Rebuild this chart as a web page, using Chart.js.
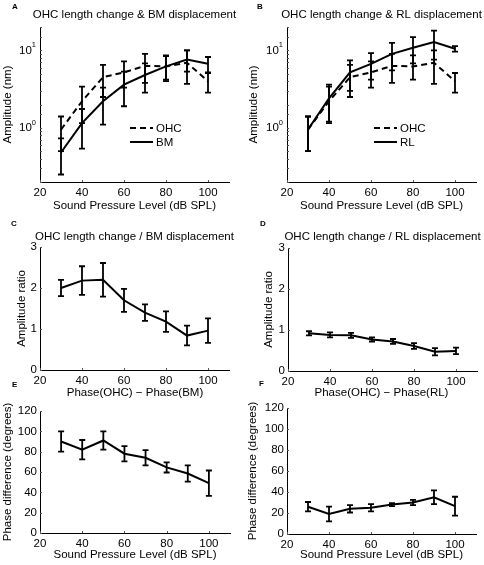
<!DOCTYPE html>
<html>
<head>
<meta charset="utf-8">
<script src="https://cdn.jsdelivr.net/npm/chart.js@4.4.0/dist/chart.umd.min.js"></script>
<style>
body { margin: 0; background: #fff; }
#wrap { position: relative; width: 484px; height: 565px; overflow: hidden; }
canvas { position: absolute; }
</style>
</head>
<body>
<div id="wrap">
  <canvas id="cA" width="242" height="213" style="left:0;top:0"></canvas>
  <canvas id="cB" width="242" height="213" style="left:242px;top:0"></canvas>
  <canvas id="cC" width="242" height="170" style="left:0;top:215px"></canvas>
  <canvas id="cD" width="242" height="170" style="left:242px;top:215px"></canvas>
  <canvas id="cE" width="242" height="184" style="left:0;top:378px"></canvas>
  <canvas id="cF" width="242" height="184" style="left:242px;top:378px"></canvas>
</div>
<script>
// Sound pressure levels (dB SPL)
const spl = [30, 40, 50, 60, 70, 80, 90, 100];

// Amplitudes (nm), with lower/upper error bar ends
const ohcAmp = [0.95, 2.2, 4.5, 5.2, 6.3, 6.2, 6.9, 4.0];
const ohcLo  = [0.5, 1.15, 2.5, 3.3, 3.8, 4.2, 3.7, 2.85];
const ohcHi  = [1.4, 3.4, 6.5, 7.2, 9.0, 8.6, 10.0, 5.1];
const bmAmp  = [0.48, 1.15, 2.2, 3.6, 4.8, 6.2, 7.6, 6.7];
const bmLo   = [0.25, 0.54, 1.1, 1.9, 2.85, 4.0, 5.3, 5.2];
const bmHi   = [0.73, 1.75, 3.3, 5.3, 6.8, 8.4, 10.0, 8.2];
const rlAmp  = [0.95, 2.4, 5.2, 6.7, 9.0, 10.8, 12.8, 10.5];
const rlLo   = [0.5, 1.2, 3.0, 4.2, 5.5, 6.8, 7.6, 9.6];
const rlHi   = [1.4, 3.6, 7.4, 9.2, 12.5, 14.8, 18.0, 11.3];

// Amplitude ratios, +/- error
const ratioBM = [2.0, 2.18, 2.2, 1.7, 1.4, 1.18, 0.84, 0.96];
const ratioBMErr = [0.2, 0.35, 0.41, 0.28, 0.2, 0.25, 0.24, 0.3];
const ratioRL = [0.92, 0.88, 0.87, 0.77, 0.72, 0.61, 0.47, 0.49];
const ratioRLErr = [0.05, 0.06, 0.06, 0.05, 0.06, 0.07, 0.09, 0.08];

// Phase differences (degrees), +/- error
const phaseBM = [90, 82, 91, 78, 74, 64.5, 58.5, 49];
const phaseBMErr = [10, 9.5, 9, 7.5, 7.5, 5, 8, 12.5];
const phaseRL = [26, 19, 24, 25, 28, 30, 35, 26.5];
const phaseRLErr = [4.5, 7, 3.5, 3.5, 1.5, 2.5, 6.5, 9];

const xTicks = [20, 40, 60, 80, 100];
const FONT = 'Liberation Sans, Arial, sans-serif';

const pts = (vals) => spl.map((x, i) => ({ x: x, y: vals[i] }));
const minus = (v, e) => v.map((a, i) => a - e[i]);
const plus = (v, e) => v.map((a, i) => a + e[i]);

// error bars, inward ticks, panel letter, title, legend, log tick labels
const decor = {
  id: 'decor',
  afterDatasetsDraw(chart, args, o) {
    const ctx = chart.ctx, a = chart.chartArea;
    const xs = chart.scales.x, ys = chart.scales.y;
    ctx.save();
    // small inward tick marks (matlab style)
    ctx.strokeStyle = '#555';
    ctx.lineWidth = 1;
    ctx.beginPath();
    xs.ticks.forEach(t => {
      const x = Math.round(xs.getPixelForValue(t.value)) + 0.5;
      ctx.moveTo(x, a.bottom); ctx.lineTo(x, a.bottom - 2);
    });
    ys.ticks.forEach(t => {
      const y = Math.round(ys.getPixelForValue(t.value)) + 0.5;
      ctx.moveTo(a.left, y); ctx.lineTo(a.left + 2, y);
    });
    ctx.stroke();

    ctx.strokeStyle = '#000';
    ctx.lineWidth = 1.8;
    chart.data.datasets.forEach(ds => {
      if (!ds.lo) return;
      ds.data.forEach((p, j) => {
        const x = xs.getPixelForValue(p.x);
        const y1 = ys.getPixelForValue(ds.lo[j]);
        const y2 = ys.getPixelForValue(ds.hi[j]);
        ctx.beginPath();
        ctx.moveTo(x, y1); ctx.lineTo(x, y2);
        ctx.moveTo(x - 3, y1); ctx.lineTo(x + 3, y1);
        ctx.moveTo(x - 3, y2); ctx.lineTo(x + 3, y2);
        ctx.stroke();
      });
    });
    ctx.restore();
  },
  afterDraw(chart, args, o) {
    const ctx = chart.ctx, a = chart.chartArea;
    ctx.save();
    ctx.fillStyle = '#000';
    ctx.font = 'bold 8px ' + FONT;
    ctx.textAlign = 'left';
    ctx.textBaseline = 'middle';
    ctx.fillText(o.letter, o.letterX, o.letterY);

    ctx.font = '11.5px ' + FONT;
    ctx.textAlign = 'center';
    ctx.fillText(o.title, (a.left + a.right) / 2, o.titleY);

    if (o.logTicks) {
      const ys = chart.scales.y;
      o.logTicks.forEach(e => {
        const y = ys.getPixelForValue(Math.pow(10, e));
        ctx.font = '7.5px ' + FONT;
        ctx.textAlign = 'right';
        ctx.textBaseline = 'middle';
        const ew = ctx.measureText(String(e)).width;
        ctx.fillText(String(e), a.left - 4, y - 5);
        ctx.font = '11.5px ' + FONT;
        ctx.fillText('10', a.left - 4 - ew, y);
      });
    }

    if (o.legend) {
      const lg = o.legend;
      chart.data.datasets.forEach((ds, i) => {
        const y = lg.y + i * 14;
        ctx.strokeStyle = '#000';
        ctx.lineWidth = 2;
        ctx.setLineDash(ds.borderDash || []);
        ctx.beginPath();
        ctx.moveTo(lg.x, y); ctx.lineTo(lg.x + 23, y);
        ctx.stroke();
        ctx.setLineDash([]);
        ctx.font = '11.5px ' + FONT;
        ctx.textAlign = 'left';
        ctx.textBaseline = 'middle';
        ctx.fillText(ds.label, lg.x + 26, y + 1);
      });
    }
    ctx.restore();
  }
};

function line(label, vals, lo, hi, dash) {
  return {
    label: label,
    data: pts(vals),
    lo: lo, hi: hi,
    borderColor: '#000',
    borderWidth: 2,
    borderDash: dash || [],
    pointRadius: 0,
    tension: 0,
    fill: false
  };
}

function makePanel(id, p) {
  const noGrid = { display: false, drawTicks: false, tickLength: 0 };
  const yScale = {
    type: p.log ? 'logarithmic' : 'linear',
    min: p.yMin, max: p.yMax,
    grid: noGrid,
    border: { display: true, color: '#000', width: 1 },
    ticks: {
      display: !p.log,
      stepSize: p.yStep,
      autoSkip: false,
      color: '#000',
      padding: 3,
      font: { family: FONT, size: 11.5 }
    },
    title: {
      display: true, text: p.yTitle, color: '#000',
      padding: { top: p.yTitlePad, bottom: 0 },
      font: { family: FONT, size: 11.5 }
    },
    afterFit: s => { s.width = p.L; }
  };
  const xScale = {
    type: 'linear', min: 20, max: 110,
    grid: noGrid,
    border: { display: true, color: '#000', width: 1 },
    afterBuildTicks: s => { s.ticks = xTicks.map(v => ({ value: v })); },
    ticks: {
      color: '#000', padding: 4, autoSkip: false, maxRotation: 0,
      font: { family: FONT, size: 11.5 }
    },
    title: {
      display: !!p.xTitle, text: 'Sound Pressure Level (dB SPL)', color: '#000',
      padding: { top: 0, bottom: 0 },
      font: { family: FONT, size: 11.5 }
    },
    afterFit: s => { s.height = p.H - p.B; }
  };
  return new Chart(document.getElementById(id), {
    type: 'line',
    data: { datasets: p.datasets },
    options: {
      responsive: false,
      animation: false,
      layout: { padding: { left: 0, top: p.T, right: 242 - p.R, bottom: 0 } },
      scales: { x: xScale, y: yScale },
      plugins: {
        legend: { display: false },
        tooltip: { enabled: false },
        decor: {
          letter: p.letter, letterX: p.lx, letterY: p.ly,
          title: p.title, titleY: p.titleY,
          logTicks: p.log ? [0, 1] : null,
          legend: p.legend
        }
      }
    },
    plugins: [decor]
  });
}

makePanel('cA', {
  letter: 'A', lx: 12, ly: 7, title: 'OHC length change & BM displacement', titleY: 15,
  yTitle: 'Amplitude (nm)', yTitlePad: 1, log: true, yMin: 0.2, yMax: 20,
  L: 40, T: 27, R: 229, B: 182, H: 213, xTitle: true,
  legend: { x: 130, y: 128 },
  datasets: [line('OHC', ohcAmp, ohcLo, ohcHi, [6, 4]), line('BM', bmAmp, bmLo, bmHi)]
});
makePanel('cB', {
  letter: 'B', lx: 15, ly: 7, title: 'OHC length change & RL displacement', titleY: 15,
  yTitle: 'Amplitude (nm)', yTitlePad: 5, log: true, yMin: 0.2, yMax: 20,
  L: 45, T: 27, R: 234, B: 182, H: 213, xTitle: true,
  legend: { x: 132, y: 128 },
  datasets: [line('OHC', ohcAmp, ohcLo, ohcHi, [6, 4]), line('RL', rlAmp, rlLo, rlHi)]
});
makePanel('cC', {
  letter: 'C', lx: 11, ly: 9, title: 'OHC length change / BM displacement', titleY: 22,
  yTitle: 'Amplitude ratio', yTitlePad: 15, log: false, yMin: 0, yMax: 3, yStep: 1,
  L: 40, T: 32, R: 229, B: 155, H: 170, xTitle: false,
  datasets: [line('BM', ratioBM, minus(ratioBM, ratioBMErr), plus(ratioBM, ratioBMErr))]
});
makePanel('cD', {
  letter: 'D', lx: 18, ly: 9, title: 'OHC length change / RL displacement', titleY: 22,
  yTitle: 'Amplitude ratio', yTitlePad: 20, log: false, yMin: 0, yMax: 3, yStep: 1,
  L: 46, T: 33, R: 235, B: 156, H: 170, xTitle: false,
  datasets: [line('RL', ratioRL, minus(ratioRL, ratioRLErr), plus(ratioRL, ratioRLErr))]
});
makePanel('cE', {
  letter: 'E', lx: 12, ly: 7, title: 'Phase(OHC) \u2212 Phase(BM)', titleY: 15,
  yTitle: 'Phase difference (degrees)', yTitlePad: 1, log: false, yMin: 0, yMax: 120, yStep: 20,
  L: 40, T: 33, R: 230, B: 155, H: 184, xTitle: true,
  datasets: [line('BM', phaseBM, minus(phaseBM, phaseBMErr), plus(phaseBM, phaseBMErr))]
});
makePanel('cF', {
  letter: 'F', lx: 17, ly: 6, title: 'Phase(OHC) \u2212 Phase(RL)', titleY: 15,
  yTitle: 'Phase difference (degrees)', yTitlePad: 4, log: false, yMin: 0, yMax: 120, yStep: 20,
  L: 45, T: 30, R: 234, B: 156, H: 184, xTitle: true,
  datasets: [line('RL', phaseRL, minus(phaseRL, phaseRLErr), plus(phaseRL, phaseRLErr))]
});
</script>
</body>
</html>
